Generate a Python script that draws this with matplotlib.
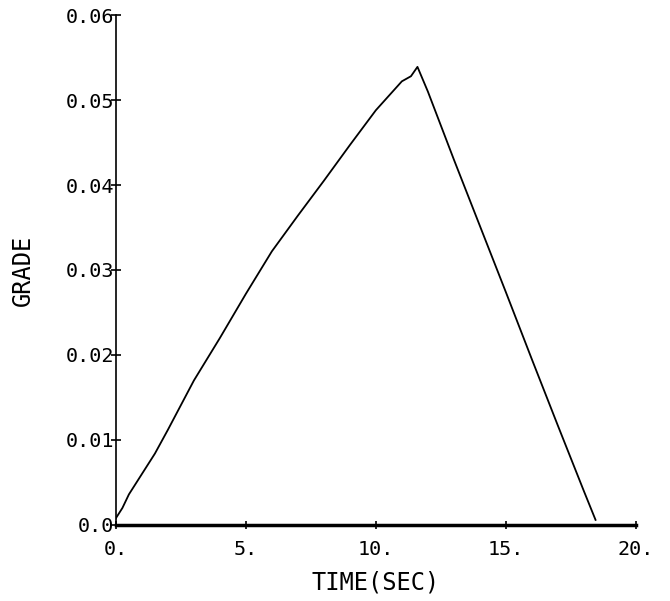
# Grade vs time trace, replotted from an old plotter figure
import matplotlib.pyplot as plt

t = [0.0, 0.25, 0.5, 1.0, 1.5, 2.0, 3.0, 4.0, 5.0, 6.0, 7.0, 8.0, 9.0,
     10.0, 11.0, 11.35, 11.6, 12.0, 13.0, 14.0, 15.0, 16.0, 17.0, 18.0, 18.45]
grade = [0.0008, 0.0020, 0.0036, 0.0060, 0.0084, 0.0112, 0.0170, 0.0220,
         0.0272, 0.0322, 0.0364, 0.0405, 0.0447, 0.0488, 0.0522, 0.0528,
         0.0539, 0.0510, 0.0430, 0.0352, 0.0274, 0.0195, 0.0117, 0.0040, 0.0006]

xticks = [0, 5, 10, 15, 20]
xlabels = ['0.', '5.', '10.', '15.', '20.']
yticks = [0.0, 0.01, 0.02, 0.03, 0.04, 0.05, 0.06]
ylabels = ['0.0', '0.01', '0.02', '0.03', '0.04', '0.05', '0.06']

plt.rcParams['font.family'] = 'DejaVu Sans Mono'

fig = plt.figure(figsize=(6.7, 6.01), dpi=100)
ax = fig.add_axes([0.173, 0.1265, 0.776, 0.8485])

ax.plot(t, grade, 'k-', lw=1.3)

ax.set_xlim(0, 20)
ax.set_ylim(0, 0.06)
ax.set_xticks(xticks)
ax.set_xticklabels(xlabels)
ax.set_yticks(yticks)
ax.set_yticklabels(ylabels)

ax.spines['top'].set_visible(False)
ax.spines['right'].set_visible(False)
ax.spines['left'].set_linewidth(1.2)
ax.spines['bottom'].set_linewidth(2.5)

ax.tick_params(axis='y', direction='inout', length=7, width=1.2, pad=-2, labelsize=14.5)
ax.tick_params(axis='x', direction='inout', length=6, width=1.2, pad=8, labelsize=14.5)

ax.set_xlabel('TIME(SEC)', fontsize=17, labelpad=8)
ax.set_ylabel('GRADE', fontsize=17, labelpad=22)

fig.savefig('out.png', dpi=100)
